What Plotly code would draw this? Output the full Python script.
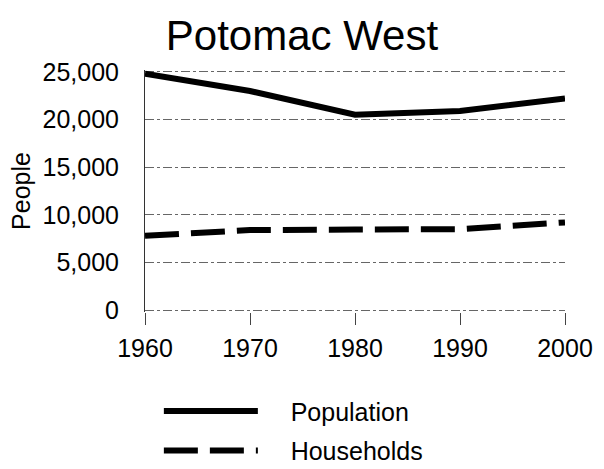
import plotly.graph_objects as go

years = [1960, 1970, 1980, 1990, 2000]
population = [24800, 23000, 20500, 20900, 22200]
households = [7800, 8400, 8450, 8500, 9200]
y_ticks = [0, 5000, 10000, 15000, 20000, 25000]
y_tick_labels = ["0", "5,000", "10,000", "15,000", "20,000", "25,000"]
series_names = ["Population", "Households"]

W, H = 604, 520
PAD = "\u00a0" * 4

fig = go.Figure()
fig.add_trace(go.Scatter(x=years, y=population, name=PAD + series_names[0], mode="lines",
                         legendgroup="a",
                         line=dict(color="black", width=6)))
fig.add_trace(go.Scatter(x=years, y=households, name=PAD + series_names[1], mode="lines",
                         legendgroup="b",
                         line=dict(color="black", width=6, dash="34px,12px")))

fig.update_layout(
    width=W, height=H,
    paper_bgcolor="white", plot_bgcolor="white",
    margin=dict(l=145, r=39, t=70, b=H - 312),
    font=dict(family="Liberation Sans, Arial, sans-serif", color="black", size=25),
    title=dict(text="Potomac West", x=0.5, xanchor="center", y=1 - 35 / H, yanchor="middle",
               font=dict(size=42)),
    legend=dict(x=0.033, xanchor="left", y=-0.315, yanchor="top",
                font=dict(size=25), itemwidth=94, tracegroupgap=4,
                bgcolor="rgba(0,0,0,0)"),
    showlegend=True,
)
fig.update_xaxes(range=[1960, 2000], tickvals=years, ticktext=[str(y) for y in years],
                 showgrid=False, zeroline=False, showline=False,
                 ticks="outside", ticklen=12, tickcolor="#444", tickwidth=1,
                 tickfont=dict(size=25), ticklabelstandoff=2)
fig.update_yaxes(range=[-200, 25200], tickvals=y_ticks, ticktext=y_tick_labels,
                 showgrid=True, gridcolor="#666", gridwidth=1, griddash="dashdot",
                 zeroline=False, showline=True, linecolor="#333", linewidth=1,
                 ticks="", tickfont=dict(size=25), ticklabelstandoff=20,
                 title=dict(text="People", font=dict(size=25), standoff=4))
fig.write_html("out.html", config={"displayModeBar": False},
               post_script="document.body.style.margin='0';document.body.style.overflow='hidden';")
